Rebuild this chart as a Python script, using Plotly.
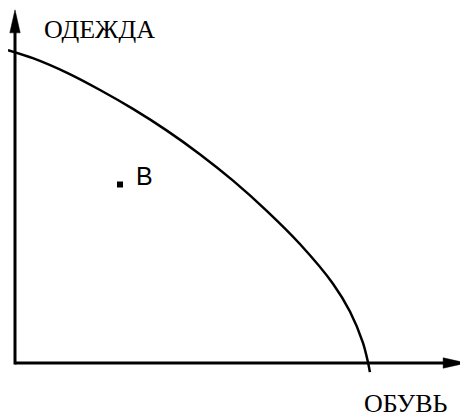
import plotly.graph_objects as go

# Production possibilities frontier
shoes = [-2.0, 5.1, 14.9, 24.3, 33.7, 43.4, 52.9, 62.3, 72.0, 81.4, 90.9, 95.7, 99.4, 100.9, 101.4]
clothing = [89.4, 87.1, 82.9, 78.0, 72.6, 66.4, 59.6, 52.1, 43.4, 34.0, 22.6, 14.7, 5.8, 0.0, -2.6]

point_x = [30]
point_y = [51.0]
point_label = "B"

x_label = "ОБУВЬ"
y_label = "ОДЕЖДА"

x_tip = 128.9
y_tip = 100.9
PX = 1 / 3.5          # data units per pixel
head_len = 23 * PX
head_half = 5.2 * PX

fig = go.Figure()
fig.add_trace(go.Scatter(x=shoes, y=clothing, mode="lines",
                         line=dict(color="black", width=2.5, shape="spline", smoothing=0.8),
                         hoverinfo="skip", showlegend=False, cliponaxis=False))
fig.add_trace(go.Scatter(x=point_x, y=point_y, mode="markers",
                         marker=dict(symbol="square", size=6, color="black"),
                         showlegend=False, hoverinfo="skip"))

# axis lines
fig.add_trace(go.Scatter(x=[0, x_tip - head_len + 1 * PX], y=[0, 0], mode="lines",
                         line=dict(color="black", width=3), hoverinfo="skip", showlegend=False))
fig.add_trace(go.Scatter(x=[0, 0], y=[-1.5 * PX, y_tip - head_len + 1 * PX], mode="lines",
                         line=dict(color="black", width=3), hoverinfo="skip", showlegend=False))
# arrow heads
fig.add_trace(go.Scatter(x=[x_tip, x_tip - head_len, x_tip - head_len, x_tip],
                         y=[0, head_half, -head_half, 0], mode="lines", fill="toself",
                         fillcolor="black", line=dict(color="black", width=0.5),
                         hoverinfo="skip", showlegend=False))
fig.add_trace(go.Scatter(x=[0, head_half, -head_half, 0],
                         y=[y_tip, y_tip - head_len, y_tip - head_len, y_tip], mode="lines", fill="toself",
                         fillcolor="black", line=dict(color="black", width=0.5),
                         hoverinfo="skip", showlegend=False))

fig.add_annotation(x=7.7, y=95.4, text=y_label, showarrow=False, xanchor="left", yanchor="middle",
                   font=dict(family="Liberation Serif", size=26, color="black"))
fig.add_annotation(x=99.4, y=-11.5, text=x_label, showarrow=False, xanchor="left", yanchor="middle",
                   height=22, valign="middle", borderpad=0,
                   font=dict(family="Liberation Serif", size=26, color="black"))
fig.add_annotation(x=point_x[0], y=point_y[0], text=point_label, showarrow=False, xanchor="left",
                   yanchor="middle", xshift=14, yshift=9,
                   font=dict(family="Liberation Sans", size=25, color="black"))

# the page body has an 8px margin, so ranges are offset accordingly
fig.update_xaxes(range=[-7 * PX, 461 * PX], visible=False)
fig.update_yaxes(range=[-61 * PX, 355 * PX], visible=False)
fig.update_layout(width=468, height=416, margin=dict(l=0, r=0, t=0, b=0),
                  plot_bgcolor="white", paper_bgcolor="white")

fig.write_html("out.html")
